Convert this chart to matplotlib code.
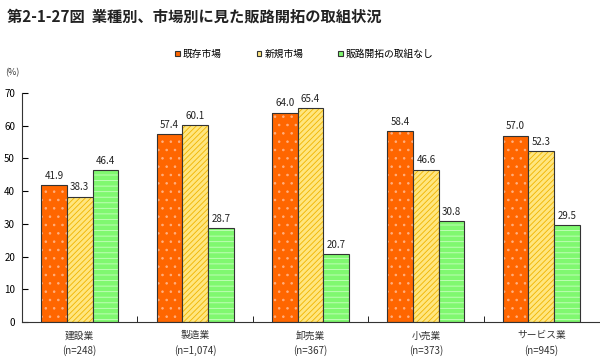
import numpy as np
import matplotlib
matplotlib.use("Agg")
import matplotlib.pyplot as plt
from matplotlib.patches import Patch

plt.rcParams['font.family'] = ['Noto Sans CJK JP', 'DejaVu Sans']
plt.rcParams['hatch.linewidth'] = 0.6

categories = ["建設業\n(n=248)", "製造業\n(n=1,074)", "卸売業\n(n=367)",
              "小売業\n(n=373)", "サービス業\n(n=945)"]
series_names = ["既存市場", "新規市場", "販路開拓の取組なし"]
existing = [41.9, 57.4, 64.0, 58.4, 57.0]
new_market = [38.3, 60.1, 65.4, 46.6, 52.3]
no_effort = [46.4, 28.7, 20.7, 30.8, 29.5]

faces = ["#FF6600", "#FFE680", "#80F870"]


def draw_bars(ax, x, values, face, hatch_col, hatch):
    ax.bar(x, values, width=0.222, color=face, edgecolor=hatch_col,
           hatch=hatch, linewidth=0)
    ax.bar(x, values, width=0.222, facecolor="none",
           edgecolor="#333333", linewidth=0.8)
    for xi, v in zip(x, values):
        ax.text(xi, v + 1.3, f"{v:.1f}", ha="center", va="bottom",
                fontsize=7, color="#222222")


fig = plt.figure(figsize=(6, 3.57), dpi=100)
ax = fig.add_axes([22 / 600, 35 / 357, 577 / 600, 229 / 357])

x = np.arange(len(categories))
w = 0.222
draw_bars(ax, x - w, existing, faces[0], "#FFB080", "..")
draw_bars(ax, x, new_market, faces[1], "#F0B400", "//////")
draw_bars(ax, x + w, no_effort, faces[2], "#C8FFC0", "---")

ax.set_xlim(-0.5, 4.5)
ax.set_ylim(0, 70)
ax.set_yticks(range(0, 71, 10))
ax.set_xticks(x)
ax.set_xticklabels(categories, fontsize=7, color="#333333", linespacing=1.5)
ax.set_xticks(np.arange(0.5, 4.5, 1), minor=True)
ax.tick_params(axis="x", which="major", length=0, pad=6)
ax.tick_params(axis="x", which="minor", direction="in", length=4)
ax.tick_params(axis="y", direction="in", length=4, labelsize=7, pad=5)
for s in ["top", "right"]:
    ax.spines[s].set_visible(False)
ax.spines["left"].set_color("#333333")
ax.spines["bottom"].set_color("#333333")

fig.text(5 / 600, 1 - 73 / 357, "(%)", fontsize=6.5, va="center", color="#333333")
fig.text(7 / 600, 1 - 17 / 357, "第2-1-27図  業種別、市場別に見た販路開拓の取組状況",
         fontsize=11, fontweight="bold", va="center", color="#222222")

handles = [Patch(facecolor=c, edgecolor="#333333", linewidth=0.8) for c in faces]
fig.legend(handles=handles, labels=series_names, loc="center left",
           bbox_to_anchor=(166 / 600, 1 - 54 / 357), ncol=3, frameon=False,
           fontsize=7, handlelength=0.5, handleheight=0.5, handletextpad=0.3,
           columnspacing=3.6)

fig.savefig("out.png", dpi=100)
